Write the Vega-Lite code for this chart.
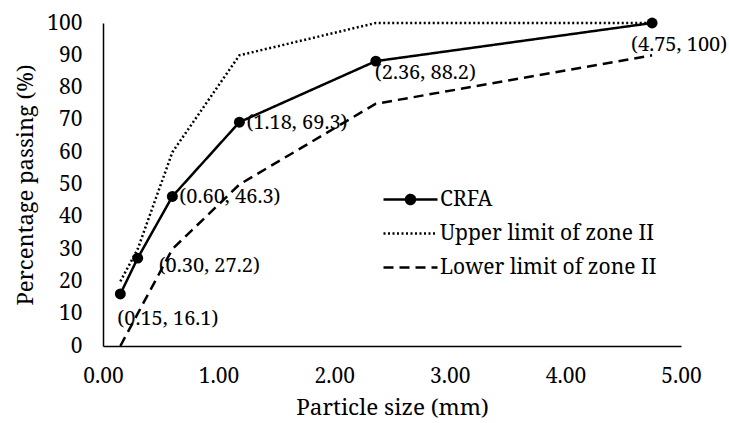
{
  "$schema": "https://vega.github.io/schema/vega-lite/v6.json",
  "width": 578,
  "height": 323,
  "autosize": {"type": "none"},
  "padding": {"left": 103, "top": 23, "right": 48, "bottom": 77},
  "background": "white",
  "config": {
    "view": {"stroke": null},
    "font": "Noto Serif",
    "axis": {"labelFont": "Noto Serif", "titleFont": "Noto Serif", "labelColor": "black", "titleColor": "black", "titleFontWeight": "normal", "domainColor": "black", "grid": false, "ticks": false, "labelFlush": false, "labelOverlap": false}
  },
  "data": {
    "values": [
      {"series": "CRFA", "size": 0.15, "pass": 16.1},
      {"series": "CRFA", "size": 0.30, "pass": 27.2},
      {"series": "CRFA", "size": 0.60, "pass": 46.3},
      {"series": "CRFA", "size": 1.18, "pass": 69.3},
      {"series": "CRFA", "size": 2.36, "pass": 88.2},
      {"series": "CRFA", "size": 4.75, "pass": 100},
      {"series": "Upper limit of zone II", "size": 0.15, "pass": 20},
      {"series": "Upper limit of zone II", "size": 0.30, "pass": 30},
      {"series": "Upper limit of zone II", "size": 0.60, "pass": 60},
      {"series": "Upper limit of zone II", "size": 1.18, "pass": 90},
      {"series": "Upper limit of zone II", "size": 2.36, "pass": 100},
      {"series": "Upper limit of zone II", "size": 4.75, "pass": 100},
      {"series": "Lower limit of zone II", "size": 0.15, "pass": 0},
      {"series": "Lower limit of zone II", "size": 0.30, "pass": 10},
      {"series": "Lower limit of zone II", "size": 0.60, "pass": 30},
      {"series": "Lower limit of zone II", "size": 1.18, "pass": 50},
      {"series": "Lower limit of zone II", "size": 2.36, "pass": 75},
      {"series": "Lower limit of zone II", "size": 4.75, "pass": 90}
    ]
  },
  "encoding": {
    "x": {"field": "size", "type": "quantitative", "scale": {"domain": [0, 5], "nice": false},
      "axis": {"values": [0, 1, 2, 3, 4, 5], "format": ".2f", "labelFontSize": 21, "labelPadding": 19, "titleFontSize": 22.5, "titlePadding": 10, "title": "Particle size (mm)", "domainWidth": 1.5}},
    "y": {"field": "pass", "type": "quantitative", "scale": {"domain": [0, 100], "nice": false},
      "axis": {"values": [0, 10, 20, 30, 40, 50, 60, 70, 80, 90, 100], "labelFontSize": 21, "labelPadding": 21, "titleFontSize": 22, "titlePadding": 9, "title": "Percentage passing (%)", "domainWidth": 1.5}}
  },
  "layer": [
    {
      "mark": {"type": "line", "color": "black", "strokeWidth": 2.5},
      "encoding": {
        "strokeDash": {"field": "series", "type": "nominal",
          "scale": {"domain": ["CRFA", "Upper limit of zone II", "Lower limit of zone II"], "range": [[1, 0], [2, 2.5], [10, 6]]},
          "legend": {"orient": "none", "legendX": 296, "legendY": 165, "title": null,
            "symbolType": "stroke", "symbolSize": 400, "symbolStrokeWidth": 2.5, "symbolStrokeColor": "black",
            "labelFont": "Noto Serif", "labelFontSize": 21, "labelColor": "black", "labelOffset": 18, "rowPadding": 12, "labelLimit": 400,
            "encoding": {"symbols": {
              "shape": {"value": {"expr": "datum.value === 'CRFA' ? 'M-2.7,0H2.7M-0.45,0A0.45,0.45,0,1,1,0.45,0A0.45,0.45,0,1,1,-0.45,0' : 'M-2.7,0H2.7'"}},
              "fill": {"value": {"expr": "datum.value === 'CRFA' ? 'black' : 'transparent'"}},
              "stroke": {"value": "black"},
              "strokeWidth": {"value": 2.5}
            }}}
        }
      }
    },
    {
      "transform": [{"filter": "datum.series === 'CRFA'"}],
      "mark": {"type": "point", "filled": true, "color": "black", "size": 120, "opacity": 1}
    },
    {
      "transform": [{"filter": "datum.series === 'CRFA' && datum.size === 0.15"}, {"calculate": "'(' + format(datum.size, '.2f') + ', ' + datum.pass + ')'", "as": "label"}],
      "mark": {"type": "text", "align": "left", "baseline": "middle", "dx": -3, "dy": 25, "fontSize": 20, "font": "Noto Serif", "color": "black"},
      "encoding": {"text": {"field": "label"}}
    },
    {
      "transform": [{"filter": "datum.series === 'CRFA' && datum.size === 0.3"}, {"calculate": "'(' + format(datum.size, '.2f') + ', ' + datum.pass + ')'", "as": "label"}],
      "mark": {"type": "text", "align": "left", "baseline": "middle", "dx": 21, "dy": 8, "fontSize": 20, "font": "Noto Serif", "color": "black"},
      "encoding": {"text": {"field": "label"}}
    },
    {
      "transform": [{"filter": "datum.series === 'CRFA' && (datum.size === 0.6 || datum.size === 1.18)"}, {"calculate": "'(' + format(datum.size, '.2f') + ', ' + datum.pass + ')'", "as": "label"}],
      "mark": {"type": "text", "align": "left", "baseline": "middle", "dx": 7, "dy": 1, "fontSize": 20, "font": "Noto Serif", "color": "black"},
      "encoding": {"text": {"field": "label"}}
    },
    {
      "transform": [{"filter": "datum.series === 'CRFA' && datum.size === 2.36"}, {"calculate": "'(' + format(datum.size, '.2f') + ', ' + datum.pass + ')'", "as": "label"}],
      "mark": {"type": "text", "align": "left", "baseline": "middle", "dx": -1, "dy": 12, "fontSize": 20, "font": "Noto Serif", "color": "black"},
      "encoding": {"text": {"field": "label"}}
    },
    {
      "transform": [{"filter": "datum.series === 'CRFA' && datum.size === 4.75"}, {"calculate": "'(' + format(datum.size, '.2f') + ', ' + datum.pass + ')'", "as": "label"}],
      "mark": {"type": "text", "align": "center", "baseline": "middle", "dx": 27, "dy": 22, "fontSize": 20, "font": "Noto Serif", "color": "black"},
      "encoding": {"text": {"field": "label"}}
    }
  ]
}
